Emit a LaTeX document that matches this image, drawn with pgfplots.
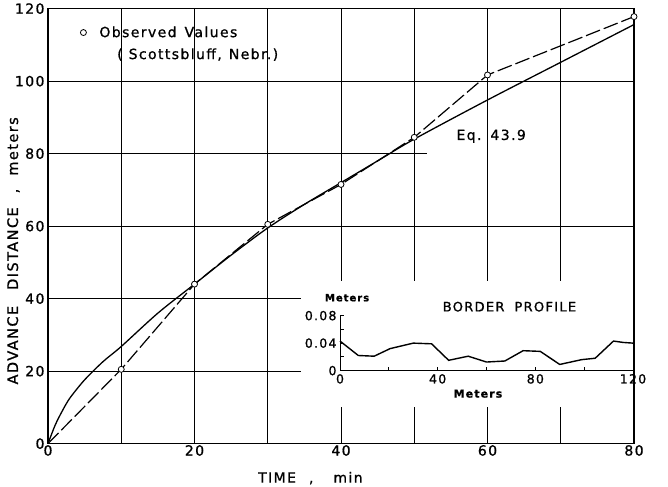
\documentclass[border=0pt]{standalone}
\usepackage{pgfplots}
\pgfplotsset{compat=1.18}
\usepackage{fontspec}
\setmainfont{DejaVu Sans}[LetterSpace=10, FakeBold=1]

\begin{document}
\begin{tikzpicture}
\begin{axis}[
  at={(0,0)}, anchor=south west,
  width=586pt, height=435pt, scale only axis,
  xmin=0, xmax=80, ymin=0, ymax=120,
  xtick={0,20,40,60,80}, ytick={0,20,40,60,80,100,120},
  major tick length=0pt,
  axis line style={line width=1.1pt},
  /pgf/number format/assume math mode=true,
  tick label style={font=\fontsize{14}{16}\selectfont},
  xticklabel style={yshift=2pt},
  clip=false,
  legend style={draw=none, fill=none, at={(0.055,0.945)}, anchor=west,
    font=\fontsize{14}{16}\selectfont, inner sep=0pt},
  legend cell align=left,
]
% partial grid lines
\draw[line width=0.9pt] (axis cs:0,20) -- (axis cs:34.6,20);
\draw[line width=0.9pt] (axis cs:0,40) -- (axis cs:34.6,40);
\draw[line width=0.9pt] (axis cs:0,60) -- (axis cs:80,60);
\draw[line width=0.9pt] (axis cs:0,80) -- (axis cs:51.8,80);
\draw[line width=0.9pt] (axis cs:0,100) -- (axis cs:80,100);
\draw[line width=0.8pt] (axis cs:10,0) -- (axis cs:10,120);
\draw[line width=0.8pt] (axis cs:20,0) -- (axis cs:20,120);
\draw[line width=0.8pt] (axis cs:30,0) -- (axis cs:30,120);
\draw[line width=0.8pt] (axis cs:40,45) -- (axis cs:40,120);
\draw[line width=0.8pt] (axis cs:50,45) -- (axis cs:50,120);
\draw[line width=0.8pt] (axis cs:60,45) -- (axis cs:60,120);
\draw[line width=0.8pt] (axis cs:70,45) -- (axis cs:70,120);
\draw[line width=0.8pt] (axis cs:40,0) -- (axis cs:40,10);
\draw[line width=0.8pt] (axis cs:50,0) -- (axis cs:50,10);
\draw[line width=0.8pt] (axis cs:60,0) -- (axis cs:60,10);
\draw[line width=0.8pt] (axis cs:70,0) -- (axis cs:70,10);

% Eq. 43.9
\addplot[forget plot, smooth, line width=1.3pt, black] coordinates {
(0,0) (1,5.2) (2,9.2) (3,12.6) (5,17.6) (7.5,22.6) (10,26.8) (15,36) (20,44)
(25,52) (30,59.5) (35,66) (40,72) (45,78) (50,84) (60,94.8) (70,105.2) (80,115.6)};
% observed, dashed connection
\addplot[forget plot, line width=1.2pt, black, dash pattern=on 15pt off 4pt] coordinates {
(0,0) (10,20.5) (20,44) (30,60.5) (40,71.5) (50,84.5) (60,101.7) (80,117.8)};
\addplot[only marks, mark=*, mark size=3pt, mark options={fill=white, draw=black, line width=0.8pt},
  legend image code/.code={\draw[mark=*, mark size=3pt, mark options={fill=white, draw=black, line width=0.8pt}] plot coordinates {(0pt,0pt)};}]
coordinates {(10,20.5) (20,44) (30,60.5) (40,71.5) (50,84.5) (60,101.7) (80,117.8)};
\addlegendentry{\hspace{11pt}Observed\hspace{8pt}Values}

\node[anchor=west, inner sep=0pt, font=\fontsize{14}{16}\selectfont] at (axis cs:9.42,107.3) {(\hspace{6pt}Scottsbluff,\hspace{7pt}Nebr.)};
\node[inner sep=0pt, font=\fontsize{14}{16}\selectfont] at (axis cs:60.5,84.8) {Eq.\hspace{9pt}43.9};
\end{axis}

% axis labels
\node[rotate=90, anchor=base west, inner sep=0pt, font=\fontsize{14.5}{16}\selectfont] at (-30pt,59pt)
  {ADVANCE\hspace{16pt}DISTANCE\hspace{14pt},\hspace{13pt}meters};
\node[anchor=base west, inner sep=0pt, font=\fontsize{14}{16}\selectfont] at (210pt,-39pt)
  {TIME\hspace{13pt},\hspace{20pt}min};

% inset
\begin{axis}[
  at={(292pt,73pt)}, anchor=south west,
  width=293pt, height=55pt, scale only axis,
  xmin=0, xmax=120, ymin=0, ymax=0.08,
  axis lines=left, axis line style={-, line width=1pt},
  scaled y ticks=false, scaled x ticks=false,
  xtick={0,20,40,60,80,100,120}, xticklabels={0,,40,,80,,120},
  ytick={0,0.02,0.04,0.06,0.08}, yticklabels={0,,0.04,,0.08},
  tick align=inside, major tick length=4pt,
  tick style={line width=0.8pt, black},
  tick label style={font=\fontsize{12.5}{14}\selectfont},
  clip=false,
]
\addplot[line width=1.4pt, black] coordinates {
(0,0.043) (7.5,0.022) (14,0.021) (20.5,0.032) (30,0.040) (37.5,0.039) (44.5,0.015)
(52.5,0.021) (60,0.0125) (67.5,0.014) (75,0.029) (82,0.028) (90,0.009) (99,0.016)
(104.5,0.018) (112,0.043) (116,0.041) (120,0.040)};
\node[font=\fontsize{10}{12}\selectfont\bfseries] at (axis cs:2.9,0.106) {Meters};
\node[font=\fontsize{13}{15}\selectfont] at (axis cs:69.4,0.093) {BORDER\hspace{10pt}PROFILE};
\node[font=\fontsize{11}{13}\selectfont\bfseries] at (axis cs:56.5,-0.0335) {Meters};
\end{axis}

\path[use as bounding box] (-48pt,-43pt) rectangle (620pt,439pt);
\end{tikzpicture}
\end{document}
